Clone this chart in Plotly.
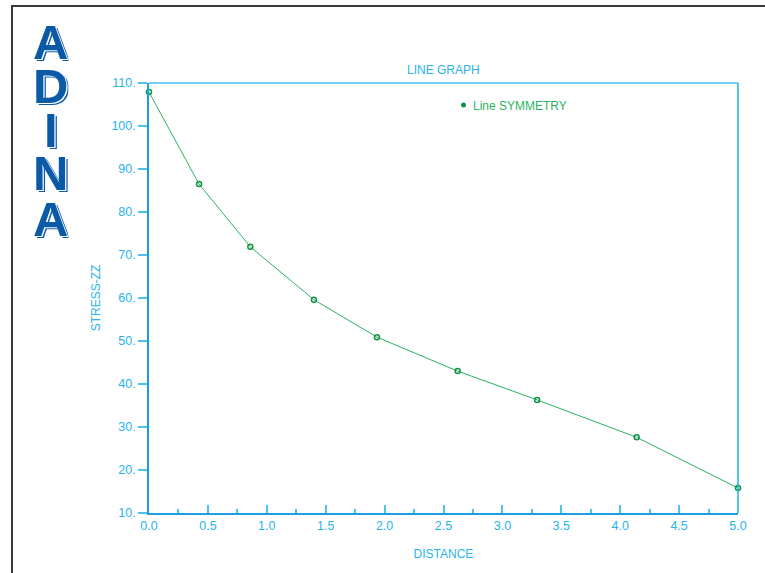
import plotly.graph_objects as go

# ---- data ----
distance = [0.0, 0.425, 0.86, 1.40, 1.935, 2.62, 3.295, 4.14, 5.0]
stress_zz = [107.9, 86.5, 71.9, 59.6, 50.9, 43.0, 36.3, 27.6, 15.8]
x_ticks = [0.0, 0.5, 1.0, 1.5, 2.0, 2.5, 3.0, 3.5, 4.0, 4.5, 5.0]
x_tick_labels = ["0.0", "0.5", "1.0", "1.5", "2.0", "2.5", "3.0", "3.5", "4.0", "4.5", "5.0"]
y_ticks = [10, 20, 30, 40, 50, 60, 70, 80, 90, 100, 110]
y_tick_labels = ["10.", "20.", "30.", "40.", "50.", "60.", "70.", "80.", "90.", "100.", "110."]
series_name = "Line SYMMETRY"
logo_letters = ["A", "D", "I", "N", "A"]

W, H = 765, 573
L, R, T, B = 149, 27, 83, 60
pw, ph = W - L - R, H - T - B

def px(x):
    return (x - L) / pw

def py(y):
    return (H - B - y) / ph

TXT = "#29b3ea"
AX = "#1e9fdc"
GREEN_LINE = "#2bb361"
GREEN_MK = "#139146"
LOGO = "#0b5aa8"
FONT = "Liberation Sans, Arial, sans-serif"

fig = go.Figure()
fig.add_trace(go.Scatter(
    x=distance, y=stress_zz, mode="lines+markers", name=series_name,
    line=dict(color=GREEN_LINE, width=1),
    marker=dict(symbol="circle-open", size=5, color=GREEN_MK, line=dict(width=1.5)),
    showlegend=False, cliponaxis=False,
))

shapes = [
    # figure frame (left and top)
    dict(type="line", xref="paper", yref="paper", x0=px(12), x1=px(12), y0=py(5), y1=py(H + 5),
         line=dict(color="#3a3a3a", width=2)),
    dict(type="line", xref="paper", yref="paper", x0=px(11), x1=px(W + 5), y0=py(6), y1=py(6),
         line=dict(color="#3a3a3a", width=2)),
    # plot box top and right
    dict(type="line", xref="paper", yref="paper", x0=0, x1=1, y0=1, y1=1,
         line=dict(color="#74d3f3", width=2)),
    dict(type="line", xref="paper", yref="paper", x0=1, x1=1, y0=0, y1=1,
         line=dict(color="#1bb4ea", width=1.5)),
    # legend marker
    dict(type="circle", xref="paper", yref="paper",
         x0=px(461), x1=px(466), y0=py(102.5), y1=py(107.5),
         fillcolor=GREEN_MK, line=dict(color=GREEN_MK, width=0)),
]

annotations = [
    dict(text="LINE GRAPH", xref="paper", yref="paper", x=0.5, y=py(70), xanchor="center",
         yanchor="middle", showarrow=False, font=dict(family=FONT, size=12, color=TXT)),
    dict(text=series_name, xref="paper", yref="paper", x=px(471), y=py(106), xanchor="left",
         yanchor="middle", showarrow=False, font=dict(family=FONT, size=12, color=GREEN_LINE)),
]

logo_y = [42.5, 86.5, 129.5, 172.5, 218.5]
for letter, yc in zip(logo_letters, logo_y):
    annotations.append(dict(
        text="<b>%s</b>" % letter, xref="paper", yref="paper", x=px(50.5), y=py(yc),
        xanchor="center", yanchor="middle", showarrow=False, height=40, borderpad=0,
        valign="middle",
        font=dict(family=FONT, size=49, color=LOGO,
                  shadow="1.2px 0.8px 0 #ffffff, 2.6px 1.6px 0 %s" % LOGO)))

fig.update_layout(
    width=W, height=H,
    margin=dict(l=L, r=R, t=T, b=B, pad=0),
    paper_bgcolor="white", plot_bgcolor="white",
    font=dict(family=FONT, size=12, color=TXT),
    shapes=shapes, annotations=annotations,
    xaxis=dict(
        range=[0, 5], tickvals=x_ticks, ticktext=x_tick_labels,
        ticks="inside", ticklen=8, tickwidth=1.5, tickcolor="#4cc3ef",
        minor=dict(dtick=0.25, tick0=0, ticks="inside", ticklen=4, tickcolor="#4cc3ef", tickwidth=1.5),
        showline=True, linecolor=AX, linewidth=1.5, showgrid=False, zeroline=False,
        tickfont=dict(family=FONT, size=12.5, color=TXT),
        title=dict(text="DISTANCE", font=dict(family=FONT, size=12, color=TXT), standoff=18),
    ),
    yaxis=dict(
        range=[10, 110], tickvals=y_ticks, ticktext=y_tick_labels,
        ticks="outside", ticklen=9, tickwidth=1.5, tickcolor="#4cc3ef",
        showline=True, linecolor=AX, linewidth=1.5, showgrid=False, zeroline=False,
        tickfont=dict(family=FONT, size=12.5, color=TXT),
        title=dict(text="STRESS-ZZ", font=dict(family=FONT, size=12, color=TXT), standoff=8),
    ),
)

fig.write_html("out.html", config={"displayModeBar": False},
               post_script="document.body.style.margin='0';")
